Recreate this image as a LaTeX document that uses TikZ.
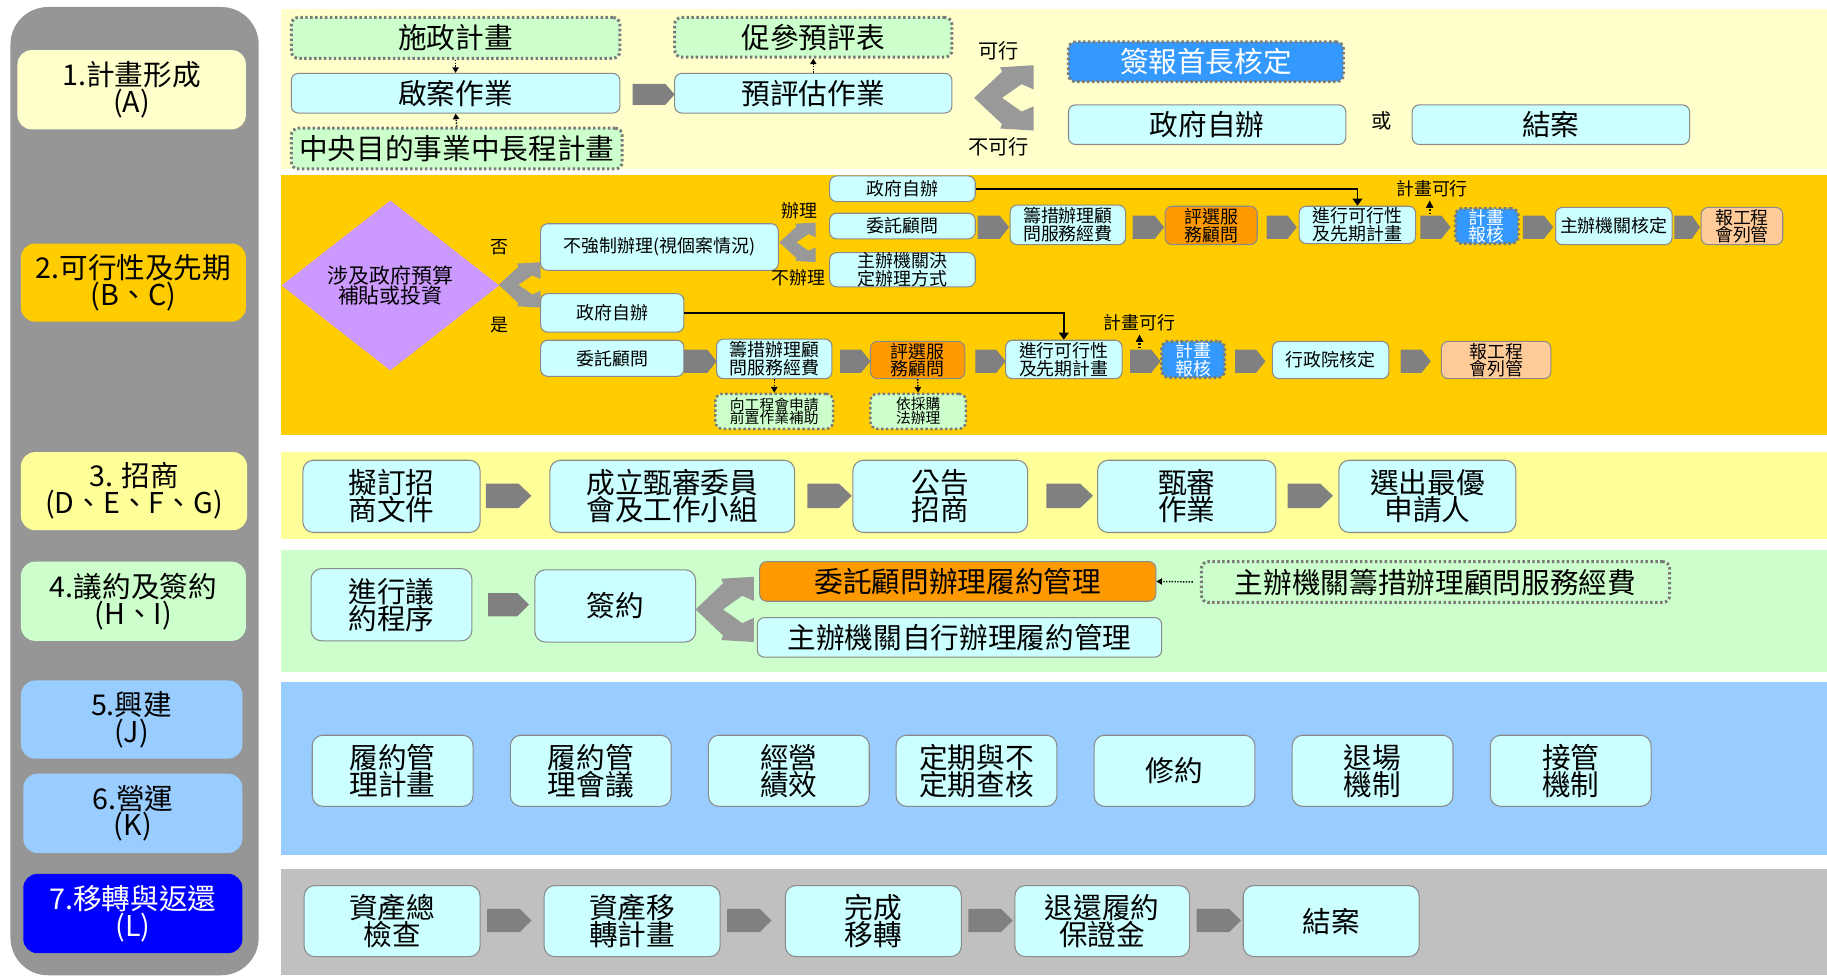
\documentclass[tikz,border=0pt]{standalone}
\usepackage{fontspec}
\setmainfont{Noto Sans CJK TC}
\usetikzlibrary{arrows.meta,shapes.geometric}
\definecolor{boxline}{HTML}{8A8A8A}
\definecolor{dotline}{HTML}{7A7A7A}
\definecolor{cyanfill}{HTML}{CCFFFF}
\definecolor{greenfill}{HTML}{CCFFCC}
\definecolor{orangefill}{HTML}{FF9900}
\definecolor{bluefill}{HTML}{3399FF}
\definecolor{peachfill}{HTML}{FFCC99}
\definecolor{lavender}{HTML}{CC99FF}
\definecolor{bandA}{HTML}{FFFFCC}
\definecolor{bandB}{HTML}{FFCC00}
\definecolor{bandC}{HTML}{FFFF99}
\definecolor{bandD}{HTML}{CCFFCC}
\definecolor{bandE}{HTML}{99CCFF}
\definecolor{bandG}{HTML}{C0C0C0}
\definecolor{panelgray}{HTML}{969696}
\definecolor{blkgray}{HTML}{808080}
\definecolor{forkgray}{HTML}{999999}
\definecolor{stageblue}{HTML}{0000FF}
\newcommand\fontBig{\fontsize{16.3}{15.3}\selectfont}
\newcommand\fontStage{\fontsize{16.3}{15.3}\selectfont}
\newcommand\fontLab{\fontsize{11.5}{11.5}\selectfont}
\newcommand\fontDia{\fontsize{11.9}{11.3}\selectfont}
\newcommand\fontSm{\fontsize{10.2}{10}\selectfont}
\newcommand\fontTiny{\fontsize{8.4}{7.9}\selectfont}
\newcommand\blk[5]{\fill[blkgray] (#1,#2) -- ({#3-#5},#2) -- (#3,{(#2+#4)/2}) -- ({#3-#5},#4) -- (#1,#4) -- cycle;}
\newcommand\fork[4]{\fill[forkgray, shift={(#1,#2)}, xscale=#3, yscale=#4] (0,0.5) -- (0.47,0.1) -- (0.44,0.03) -- (1,0) -- (1,0.37) -- (0.8,0.29) -- (0.47,0.5) -- (0.8,0.71) -- (1,0.63) -- (1,1) -- (0.44,0.97) -- (0.47,0.9) -- cycle;}
\begin{document}
\begin{tikzpicture}[x=0.023304cm,y=-0.023304cm,
  bb/.style n args={4}{at={({(#1+#3)/2},{(#2+#4)/2})}, minimum width={(#3-#1)*0.023304cm}, minimum height={(#4-#2)*0.023304cm}},
  box/.style={draw=boxline, line width=0.6pt, rounded corners=4pt, inner sep=0pt, align=center},
  cy/.style={box, fill=cyanfill},
  og/.style={box, fill=orangefill},
  pc/.style={box, fill=peachfill},
  dt/.style={draw=dotline, line width=1.7pt, dash pattern=on 1.4pt off 1.4pt, rounded corners=4pt, inner sep=0pt, align=center, fill=greenfill},
  bl/.style={dt, fill=bluefill, text=white},
  stg/.style={rounded corners=8pt, inner sep=0pt, align=center, font=\fontStage},
  dotarrow/.style={black, line width=0.8pt, dash pattern=on 0.8pt off 0.8pt, -{Triangle[length=3.2pt,width=3.6pt]}},
  solarrow/.style={black, line width=0.9pt, -{Triangle[length=4pt,width=5.5pt]}},
  okarrow/.style={black, line width=1.3pt, dash pattern=on 1pt off 1pt, -{Triangle[length=4.2pt,width=4pt]}}
]
\useasboundingbox (0,0) rectangle (1568,840);
\fill[white] (0,0) rectangle (1568,840);
% left panel
\fill[panelgray, rounded corners=0.75cm] (9,6) rectangle (222,837);
% bands
\fill[bandA] (241,8) rectangle (1568,145);
\fill[bandB] (241,150) rectangle (1568,373);
\fill[bandC] (241,388) rectangle (1568,463);
\fill[bandD] (241,472) rectangle (1568,577);
\fill[bandE] (241,585) rectangle (1568,734);
\fill[bandG] (241,746) rectangle (1568,837);
% stage labels
\node[stg, fill=bandA, bb={15}{43}{211}{111}] (s1) {1.計畫形成\\(A)};
\node[stg, fill=bandB, bb={18}{209}{211}{276}] (s2) {2.可行性及先期\\(B、C)};
\node[stg, fill=bandC, bb={18}{388}{212}{455}] (s3) {3. 招商\\(D、E、F、G)};
\node[stg, fill=bandD, bb={18}{482}{211}{550}] (s4) {4.議約及簽約\\(H、I)};
\node[stg, fill=bandE, bb={18}{584}{208}{651}] (s5) {5.興建\\(J)};
\node[stg, fill=bandE, bb={20}{664}{208}{732}] (s6) {6.營運\\(K)};
\node[stg, fill=stageblue, text=white, bb={20}{750}{208}{818}] (s7) {7.移轉與返還\\(L)};

% ---------- band 1 ----------
\node[dt, font=\fontBig, bb={250}{15}{532}{50}] (a1) {施政計畫};
\node[cy, font=\fontBig, bb={250}{63}{532}{97}] (a2) {啟案作業};
\node[dt, font=\fontBig, bb={250}{110}{534}{145}] (a3) {中央目的事業中長程計畫};
\draw[dotarrow] (a1.south) -- (a2.north);
\draw[dotarrow] (a3.north) -- (a2.south);
\blk{543}{72}{579}{90}{8}
\node[cy, font=\fontBig, bb={579}{63}{817}{97}] (a4) {預評估作業};
\node[dt, font=\fontBig, bb={579}{15}{817}{49}] (a5) {促參預評表};
\draw[dotarrow] (a4.north) -- (a5.south);
\fork{836}{56}{51}{56}
\node[font=\fontLab] (kx) at (857,44) {可行};
\node[font=\fontLab] (bkx) at (857,126) {不可行};
\node[bl, font=\fontBig, bb={917}{36}{1153}{70}] (a6) {簽報首長核定};
\node[cy, font=\fontBig, bb={917}{90}{1155}{124}] (a7) {政府自辦};
\node[font=\fontLab] (huo) at (1186,104) {或};
\node[cy, font=\fontBig, bb={1212}{90}{1450}{124}] (a8) {結案};

% ---------- band 2 ----------
\node[diamond, fill=lavender, inner sep=0pt, minimum width={187*0.023304cm}, minimum height={146*0.023304cm}, align=center, font=\fontDia] (q) at (335,245) {涉及政府預算\\補貼或投資};
\node[font=\fontSm] (fou) at (429,212) {否};
\node[font=\fontSm] (shi) at (429,279) {是};
\fork{428}{225}{36}{39}
\node[cy, font=\fontSm, bb={464}{192}{668}{232}] (b1) {不強制辦理(視個案情況)};
\node[cy, font=\fontSm, bb={464}{252}{587}{285}] (b2) {政府自辦};
\node[cy, font=\fontSm, bb={464}{292}{587}{323}] (b3) {委託顧問};
\fork{669}{191}{31}{34}
\node[font=\fontSm] (bl1) at (686,181) {辦理};
\node[font=\fontSm] (bl2) at (685,238) {不辦理};
\node[cy, font=\fontSm, bb={712}{151}{837}{173}] (c1) {政府自辦};
\node[cy, font=\fontSm, bb={712}{183}{837}{205}] (c2) {委託顧問};
\node[cy, font=\fontSm, bb={712}{217}{837}{246}] (c3) {主辦機關決\\定辦理方式};
% upper row
\blk{839}{185}{866}{205}{8}
\node[cy, font=\fontSm, bb={867}{176}{966}{210}] (u1) {籌措辦理顧\\問服務經費};
\blk{972}{185}{999}{205}{8}
\node[og, font=\fontSm, bb={1000}{177}{1079}{210}] (u2) {評選服\\務顧問};
\blk{1087}{185}{1113}{205}{8}
\node[cy, font=\fontSm, bb={1115}{177}{1215}{209}] (u3) {進行可行性\\及先期計畫};
\blk{1219}{185}{1245}{205}{8}
\node[bl, font=\fontSm, bb={1249}{179}{1303}{209}] (u4) {計畫\\報核};
\blk{1307}{185}{1333}{205}{8}
\node[cy, font=\fontSm, bb={1335}{178}{1435}{210}] (u5) {主辦機關核定};
\blk{1437}{185}{1459}{205}{7}
\node[pc, font=\fontSm, bb={1460}{178}{1530}{210}] (u6) {報工程\\會列管};
\draw[solarrow] (c1.east) -| (u3.north);
\node[font=\fontSm] (ok1) at (1229,162) {計畫可行};
\coordinate (ok1a) at (1227,184);
\coordinate (ok1b) at (1227,172);
\draw[okarrow] (ok1a) -- (ok1b);
% lower row
\blk{587}{300}{615}{320}{8}
\node[cy, font=\fontSm, bb={615}{291}{714}{325}] (l1) {籌措辦理顧\\問服務經費};
\blk{721}{300}{747}{320}{8}
\node[og, font=\fontSm, bb={747}{293}{828}{325}] (l2) {評選服\\務顧問};
\blk{837}{300}{863}{320}{8}
\node[cy, font=\fontSm, bb={863}{292}{963}{325}] (l3) {進行可行性\\及先期計畫};
\blk{970}{300}{996}{320}{8}
\node[bl, font=\fontSm, bb={997}{293}{1051}{324}] (l4) {計畫\\報核};
\blk{1060}{300}{1086}{320}{8}
\node[cy, font=\fontSm, bb={1092}{293}{1192}{325}] (l5) {行政院核定};
\blk{1202}{300}{1228}{320}{8}
\node[pc, font=\fontSm, bb={1237}{293}{1331}{325}] (l6) {報工程\\會列管};
\draw[solarrow] (b2.east) -| (l3.north);
\node[font=\fontSm] (ok2) at (978,277) {計畫可行};
\coordinate (ok2a) at (978,299);
\coordinate (ok2b) at (978,287);
\draw[okarrow] (ok2a) -- (ok2b);
\node[dt, line width=1.4pt, font=\fontTiny, bb={614}{338}{715}{368}] (l7) {向工程會申請\\前置作業補助};
\node[dt, line width=1.4pt, font=\fontTiny, bb={747}{338}{829}{368}] (l8) {依採購\\法辦理};
\draw[dotarrow] (l1.south) -- (l7.north);
\draw[dotarrow] (l2.south) -- (l8.north);

% ---------- band 3 ----------
\node[cy, rounded corners=6pt, font=\fontBig, bb={260}{395}{412}{457}] (d1) {擬訂招\\商文件};
\blk{417}{415}{456}{436}{11}
\node[cy, rounded corners=6pt, font=\fontBig, bb={472}{395}{682}{457}] (d2) {成立甄審委員\\會及工作小組};
\blk{693}{415}{731}{436}{11}
\node[cy, rounded corners=6pt, font=\fontBig, bb={732}{395}{882}{457}] (d3) {公告\\招商};
\blk{898}{415}{938}{436}{11}
\node[cy, rounded corners=6pt, font=\fontBig, bb={942}{395}{1095}{457}] (d4) {甄審\\作業};
\blk{1105}{415}{1144}{436}{11}
\node[cy, rounded corners=6pt, font=\fontBig, bb={1149}{395}{1301}{457}] (d5) {選出最優\\申請人};

% ---------- band 4 ----------
\node[cy, rounded corners=6pt, font=\fontBig, bb={267}{488}{405}{550}] (e1) {進行議\\約程序};
\blk{419}{509}{454}{529}{10}
\node[cy, rounded corners=6pt, font=\fontBig, bb={459}{489}{597}{551}] (e2) {簽約};
\fork{597}{495}{50}{56}
\node[og, font=\fontBig, bb={652}{482}{992}{516}] (e3) {委託顧問辦理履約管理};
\node[cy, font=\fontBig, bb={650}{530}{997}{564}] (e4) {主辦機關自行辦理履約管理};
\node[dt, font=\fontBig, bb={1031}{482}{1433}{517}] (e5) {主辦機關籌措辦理顧問服務經費};
\draw[dotarrow, shorten <=4pt] (e5.west) -- (e3.east);

% ---------- band 5/6 ----------
\node[cy, rounded corners=6pt, font=\fontBig, bb={268}{631}{406}{692}] (f1) {履約管\\理計畫};
\node[cy, rounded corners=6pt, font=\fontBig, bb={438}{631}{576}{692}] (f2) {履約管\\理會議};
\node[cy, rounded corners=6pt, font=\fontBig, bb={608}{631}{746}{692}] (f3) {經營\\績效};
\node[cy, rounded corners=6pt, font=\fontBig, bb={769}{631}{907}{692}] (f4) {定期與不\\定期查核};
\node[cy, rounded corners=6pt, font=\fontBig, bb={939}{631}{1077}{692}] (f5) {修約};
\node[cy, rounded corners=6pt, font=\fontBig, bb={1109}{631}{1247}{692}] (f6) {退場\\機制};
\node[cy, rounded corners=6pt, font=\fontBig, bb={1279}{631}{1417}{692}] (f7) {接管\\機制};

% ---------- band 7 ----------
\node[cy, rounded corners=6pt, font=\fontBig, bb={261}{760}{412}{821}] (g1) {資產總\\檢查};
\blk{418}{780}{456}{800}{10}
\node[cy, rounded corners=6pt, font=\fontBig, bb={467}{760}{618}{821}] (g2) {資產移\\轉計畫};
\blk{624}{780}{662}{800}{10}
\node[cy, rounded corners=6pt, font=\fontBig, bb={674}{760}{825}{821}] (g3) {完成\\移轉};
\blk{831}{780}{869}{800}{10}
\node[cy, rounded corners=6pt, font=\fontBig, bb={871}{760}{1021}{821}] (g4) {退還履約\\保證金};
\blk{1027}{780}{1065}{800}{10}
\node[cy, rounded corners=6pt, font=\fontBig, bb={1067}{760}{1218}{821}] (g5) {結案};
\end{tikzpicture}
\end{document}
